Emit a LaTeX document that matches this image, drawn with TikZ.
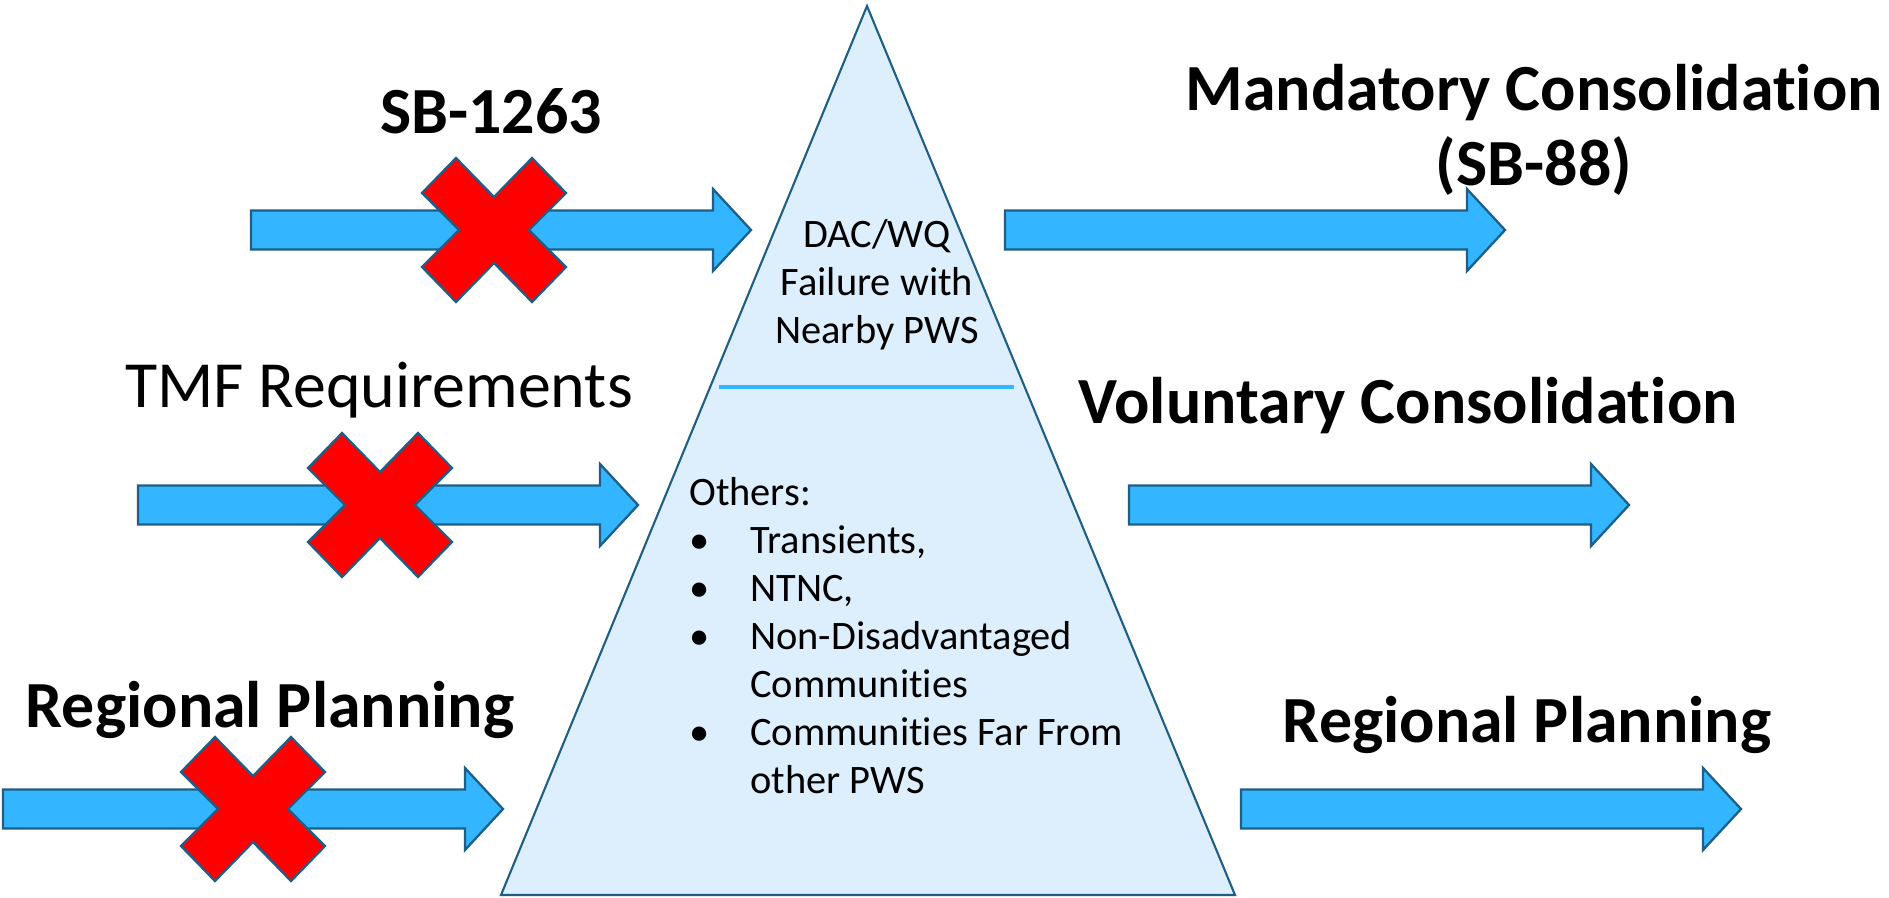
\documentclass[tikz,border=0pt]{standalone}
\usepackage{fontspec}
\setmainfont{Carlito}[Ligatures = {NoCommon, NoContextual}]
\usepackage{tikz}

\definecolor{arrowblue}{RGB}{51,181,255}
\definecolor{edgeblue}{RGB}{31,94,134}
\definecolor{pyrfill}{RGB}{221,239,253}
\definecolor{crossred}{RGB}{255,0,0}

\tikzset{
  blockarrow/.style={fill=arrowblue, draw=edgeblue, line width=1.3pt},
  crossmark/.style={fill=crossred, draw=edgeblue, line width=1.3pt},
  pyramid/.style={fill=pyrfill, draw=edgeblue, line width=1.2pt},
  bigbold/.style={font=\fontsize{37.5}{45}\selectfont\bfseries, anchor=base, inner sep=0pt},
  bigplain/.style={font=\fontsize{37.5}{45}\selectfont, anchor=base, inner sep=0pt},
  smalltext/.style={font=\fontsize{23}{27.3}\selectfont, inner sep=0pt}
}
\newlength{\bulletgap}
\setlength{\bulletgap}{1.22cm}

\begin{document}
\begin{tikzpicture}[x = 0.02cm, y = -0.02cm]
      \useasboundingbox (0, 0) rectangle (1889, 897);
      % pyramid
      \draw[pyramid] (867, 6) coordinate (apex) -- (1235, 895) coordinate (baseR)
        -- (501, 895) coordinate (baseL) -- cycle;
      \draw[arrowblue, line width = 2pt] (719, 387) coordinate (divL) -- (1014, 387) coordinate (divR);
      % block arrows
      \foreach \ax/\ay in {251/230, 138/505, 3/809, 1005/230, 1129/505, 1241/809}
        \draw[blockarrow] (\ax, \ay-19.5) -- (\ax+462, \ay-19.5) -- (\ax+462, \ay-41)
          -- (\ax+500, \ay) -- (\ax+462, \ay+41) -- (\ax+462, \ay+19.5) -- (\ax, \ay+19.5) -- cycle;
      % crosses
      \foreach \cx/\cy in {494/230, 380/505, 253/809}
        \draw[crossmark, shift = {(\cx, \cy)}] (-38, -72) -- (0, -33) -- (38, -72) -- (72, -37)
          -- (35, 0) -- (72, 37) -- (38, 72) -- (0, 33) -- (-38, 72) -- (-72, 37)
          -- (-35, 0) -- (-72, -37) -- cycle;
      % labels
      \node[bigbold] (sbtext) at (491, 133) {SB-1263};
      \node[bigplain] (tmftext) at (379, 407) {TMF Requirements};
      \node[bigbold] (regleft) at (270, 727) {Regional Planning};
      \node[bigbold] (mandtext) at (1534, 110) {Mandatory Consolidation};
      \node[bigbold] (mandsub) at (1534, 185) {(SB-88)};
      \node[bigbold] (voltext) at (1408, 423) {Voluntary Consolidation};
      \node[bigbold] (regright) at (1527, 742) {Regional Planning};
      % multi-line nodes sit on the baseline of their last line
      \node[smalltext, align = center, anchor = base] (dactext) at (877, 343)
        {DAC/WQ\\Failure with\\Nearby PWS};
      \node[smalltext, align = left, anchor = base west] (otherstext) at (689, 793)
        {Others:\\
         \makebox[\bulletgap][l]{•}Transients,\\
         \makebox[\bulletgap][l]{•}NTNC,\\
         \makebox[\bulletgap][l]{•}Non-Disadvantaged\\
         \makebox[\bulletgap][l]{}Communities\\
         \makebox[\bulletgap][l]{•}Communities Far From\\
         \makebox[\bulletgap][l]{}other PWS};
    \end{tikzpicture}
\end{document}
